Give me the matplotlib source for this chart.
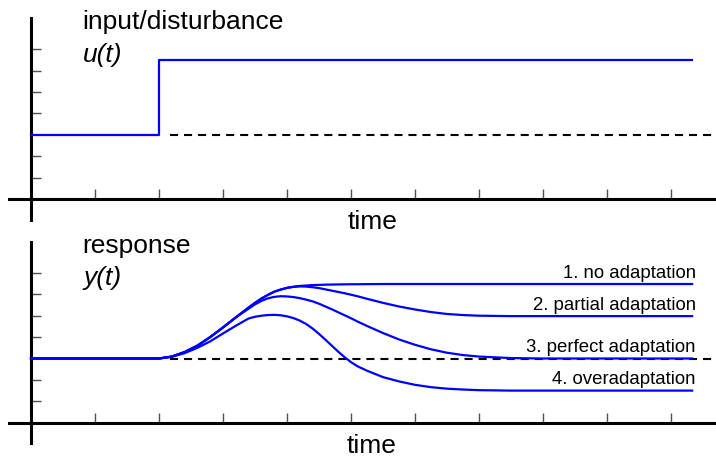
import matplotlib.pyplot as plt

plt.rcParams['font.family'] = ['Liberation Sans', 'DejaVu Sans']
plt.rcParams['lines.scale_dashes'] = False

# step input u(t)
u_time = [0, 2.0, 2.0, 10.33]
u_vals = [3.0, 3.0, 6.5, 6.5]
rest_level = 3.0

# response y(t) for the four cases
t_resp = [0, 2.0, 2.2, 2.4, 2.6, 2.8, 3.0, 3.2, 3.4, 3.5, 3.6, 3.7, 3.8, 3.9,
          4.0, 4.1, 4.2, 4.3, 4.4, 4.5, 4.6, 4.7, 4.8, 4.9, 5.0, 5.1, 5.25,
          5.5, 5.75, 6.0, 6.25, 6.5, 6.75, 7.0, 7.5, 8.0, 10.33]
y_none = [3.0, 3.0, 3.09, 3.3, 3.6, 4.0, 4.45, 4.92, 5.38,
          5.6, 5.8, 5.97, 6.12, 6.22, 6.3, 6.35, 6.39,
          6.41, 6.43, 6.44, 6.45, 6.455, 6.46, 6.465, 6.47, 6.47,
          6.475, 6.48, 6.48, 6.48, 6.48, 6.48, 6.48, 6.48, 6.48, 6.48, 6.48]
y_partial = [3.0, 3.0, 3.09, 3.3, 3.6, 4.0, 4.45, 4.92, 5.38,
             5.6, 5.8, 5.97, 6.12, 6.22, 6.3, 6.35, 6.37,
             6.36, 6.33, 6.29, 6.23, 6.17, 6.11, 6.05, 5.98, 5.91,
             5.79, 5.6, 5.43, 5.29, 5.17, 5.08, 5.03, 5.0, 4.98, 4.98, 4.98]
y_perfect = [3.0, 3.0, 3.09, 3.3, 3.6, 4.0, 4.45, 4.92, 5.33,
             5.53, 5.69, 5.81, 5.88, 5.91, 5.9, 5.87, 5.82,
             5.75, 5.67, 5.56, 5.43, 5.3, 5.16, 5.02, 4.88, 4.73,
             4.52, 4.19, 3.89, 3.64, 3.43, 3.27, 3.16, 3.09, 3.02, 3.0, 3.0]
y_over = [3.0, 3.0, 3.08, 3.25, 3.5, 3.8, 4.17, 4.53, 4.87,
          4.95, 5.0, 5.03, 5.04, 5.02, 4.97, 4.89, 4.77,
          4.61, 4.4, 4.15, 3.88, 3.6, 3.32, 3.06, 2.83, 2.64,
          2.43, 2.13, 1.93, 1.77, 1.66, 1.59, 1.55, 1.52, 1.5, 1.5, 1.5]

responses = [y_none, y_partial, y_perfect, y_over]
resp_labels = ['1. no adaptation', '2. partial adaptation',
               '3. perfect adaptation', '4. overadaptation']

W, H = 716, 457
BLUE = '#0000ff'

fig = plt.figure(figsize=(W / 100, H / 100), dpi=100)


def fig_xy(x, y):
    # pixel position -> figure fraction
    return x / W, 1 - y / H


def setup(ax, ylim, ybar):
    ax.set_xlim(-31 / 64, (W - 31) / 64)
    ax.set_ylim(*ylim)
    ax.patch.set_alpha(0)
    for s in ('top', 'right'):
        ax.spines[s].set_visible(False)
    for s in ('left', 'bottom'):
        ax.spines[s].set_position(('data', 0))
        ax.spines[s].set_linewidth(2.2)
        ax.spines[s].set_color('black')
    ax.spines['left'].set_bounds(*ybar)
    ax.spines['bottom'].set_bounds(-0.34, 10.8)
    ax.set_xticks(range(1, 11))
    ax.set_yticks([1, 2, 4, 5, 6, 7])
    ax.tick_params(direction='in', length=7.2, width=1.0, color='#505050',
                   labelbottom=False, labelleft=False)


# top panel: input
ax1 = fig.add_axes([0, 1 - 228 / H, 1, 228 / H])
setup(ax1, ((199 - 228) / 21.4, 199 / 21.4), (-0.98, 8.46))
ax1.plot([2.17, 10.8], [rest_level, rest_level], color='black', lw=1.5,
         dashes=(5.8, 4.3), zorder=2)
ax1.plot(u_time, u_vals, color=BLUE, lw=1.6, zorder=3)

# bottom panel: response
ax2 = fig.add_axes([0, 0, 1, 229 / H])
setup(ax2, ((422.7 - 457) / 21.4, (422.7 - 228) / 21.4), (-0.96, 8.43))
ax2.plot([2.17, 10.8], [rest_level, rest_level], color='black', lw=1.5,
         dashes=(5.8, 4.3), zorder=2)
for y, lab in zip(responses, resp_labels):
    ax2.plot(t_resp, y, color=BLUE, lw=1.6, zorder=3)
    ax2.text(10.39, y[-1] + 0.29, lab, ha='right', va='baseline', fontsize=13.4)

fs = 19
fig.text(*fig_xy(82, 28.5), 'input/disturbance', fontsize=fs, va='baseline')
fig.text(*fig_xy(83, 62), 'u(t)', fontsize=fs, va='baseline', style='italic')
fig.text(*fig_xy(372.5, 229.5), 'time', fontsize=fs, va='baseline', ha='center')
fig.text(*fig_xy(82, 252.5), 'response', fontsize=fs, va='baseline')
fig.text(*fig_xy(83, 285.5), 'y(t)', fontsize=fs, va='baseline', style='italic')
fig.text(*fig_xy(371.5, 453.3), 'time', fontsize=fs, va='baseline', ha='center')

fig.savefig('out.png', dpi=100)
